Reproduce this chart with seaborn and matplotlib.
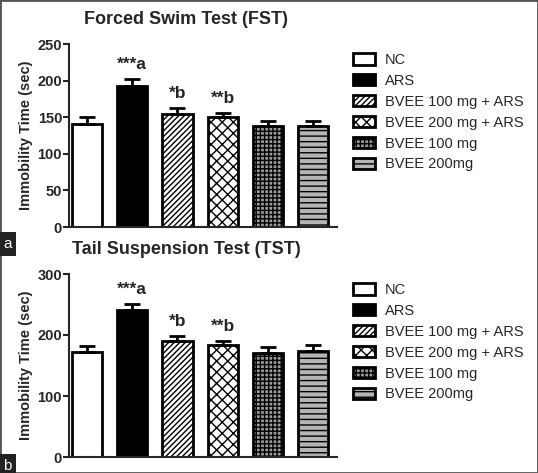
import matplotlib
matplotlib.use("Agg")
import matplotlib.pyplot as plt
import matplotlib.patches as mpatches
import seaborn as sns
import numpy as np

# -----------------------------------------
# Data
# -----------------------------------------
groups = ["NC", "ARS", "BVEE 100 mg + ARS", "BVEE 200 mg + ARS", "BVEE 100 mg", "BVEE 200mg"]
fst_mean = [141, 193, 155, 150, 138, 138]
fst_sem = [9, 9, 7, 6, 7, 7]
tst_mean = [172, 241, 190, 183, 170, 174]
tst_sem = [10, 10, 9, 7, 10, 9]
marks = ["", "***a", "*b", "**b", "", ""]

# bar styles
faces = ["white", "black", "white", "white", "#9a9a9a", "#b5b5b5"]
hatches = [None, None, "//////", "xxx", "++++", "---"]

sns.set_style("ticks")
plt.rcParams['font.family'] = ['Liberation Sans', 'DejaVu Sans']
plt.rcParams['hatch.linewidth'] = 1.0

fig = plt.figure(figsize=(5.38, 4.73), dpi=100)
W, H = 538, 473


def panel(top_px, ymax, step, means, sems, title):
    ax = fig.add_axes([69 / W, (H - top_px - 183) / H, 268 / W, 183 / H])
    sns.barplot(x=groups, y=means, color="white", edgecolor="black",
                linewidth=2.0, width=0.67, errorbar=None, ax=ax)
    for p, fc, h in zip(ax.patches, faces, hatches):
        p.set_facecolor(fc)
        if h:
            p.set_hatch(h)
    ax.errorbar(np.arange(len(groups)), means, yerr=[np.zeros(len(sems)), sems],
                fmt="none", ecolor="black", elinewidth=2, capsize=6, capthick=2, zorder=1)
    for i, m in enumerate(marks):
        if m:
            ax.annotate(m, (i, means[i] + sems[i]), xytext=(0, 5), textcoords="offset points",
                        ha="center", va="bottom", fontsize=12.5, fontweight="bold")
    ax.set_xlim(-0.4, 5.53)
    ax.set_ylim(0, ymax)
    ax.set_yticks(np.arange(0, ymax + 1, step))
    ax.set_xticks([])
    ax.set_xlabel("")
    ax.set_ylabel("Immobility Time (sec)", fontsize=10.5, fontweight="bold", labelpad=3)
    for lab in ax.get_yticklabels():
        lab.set_fontweight("bold")
    ax.tick_params(axis="y", labelsize=10.5, width=1.5, length=4, pad=1)
    sns.despine(ax=ax)
    for s in ["left", "bottom"]:
        ax.spines[s].set_linewidth(1.5)

    fig.text(186 / W, 1 - (top_px - 24) / H, title, ha="center", va="center",
             fontsize=13, fontweight="bold")

    handles = [mpatches.Patch(facecolor=fc, edgecolor="black", hatch=h, linewidth=2)
               for fc, h in zip(faces, hatches)]
    fig.legend(handles, groups, loc="upper left",
               bbox_to_anchor=(340 / W, 1 - (top_px - 4) / H), frameon=False,
               fontsize=10.5, handlelength=1.5, handleheight=0.8,
               labelspacing=0.47, handletextpad=0.7)
    return ax


panel(44, 250, 50, fst_mean, fst_sem, "Forced Swim Test (FST)")
panel(274, 300, 100, tst_mean, tst_sem, "Tail Suspension Test (TST)")

# panel letters
fig.text(3 / W, 1 - 248 / H, "a", color="white", fontsize=11,
         bbox=dict(facecolor="#222222", edgecolor="none", pad=3.5))
fig.text(3 / W, 1 - 470 / H, "b", color="white", fontsize=11,
         bbox=dict(facecolor="#222222", edgecolor="none", pad=3.5))

# outer frame
fig.add_artist(mpatches.Rectangle((0, 0), 1, 1, transform=fig.transFigure,
                                  fill=False, edgecolor="#555555", linewidth=2))

fig.savefig("out.png", dpi=100)
